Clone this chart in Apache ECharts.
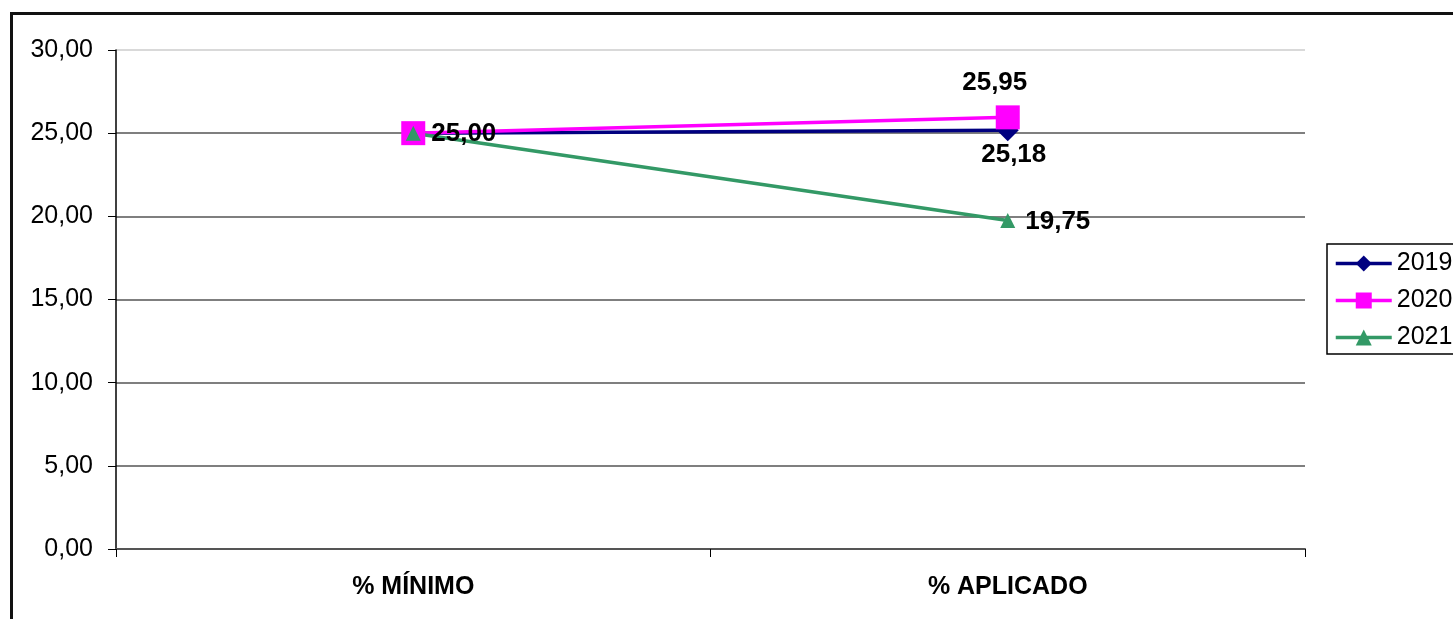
<!DOCTYPE html>
<html>
<head>
<meta charset="utf-8">
<script src="https://cdn.jsdelivr.net/npm/echarts@6/dist/echarts.min.js"></script>
<style>html,body{margin:0;padding:0;background:#fff;}#c{width:1453px;height:619px;}</style>
</head>
<body>
<div id="c"></div>
<script>
var categories = ['% MÍNIMO', '% APLICADO'];
var seriesNames = ['2019', '2020', '2021'];
var values2019 = [25.00, 25.18];
var values2020 = [25.00, 25.95];
var values2021 = [25.00, 19.75];
var yTicks = [0, 5, 10, 15, 20, 25, 30];

function fmt(v) { return Number(v).toFixed(2).replace('.', ','); }

var chart = echarts.init(document.getElementById('c'));
var FONT = 'Liberation Sans, Arial';
var labelFont = { fontFamily: FONT, fontSize: 26, fontWeight: 'bold', color: '#000' };

chart.setOption({
  animation: false,
  backgroundColor: '#fff',
  graphic: [{
    type: 'rect', left: 9, top: 11, shape: { x: 0, y: 0, width: 1600, height: 800 },
    style: { fill: 'none', stroke: '#111', lineWidth: 3 }, silent: true, z: -1
  }],
  grid: { left: 116, right: 148, top: 50, bottom: 70, containLabel: false },
  legend: {
    orient: 'vertical', left: 1327, top: 244, data: seriesNames,
    itemWidth: 56, itemHeight: 20, itemGap: 12,
    padding: [7, 10, 4, 7],
    borderColor: '#000', borderWidth: 1.5,
    lineStyle: { width: 3.5 },
    textStyle: { fontFamily: FONT, fontSize: 25, color: '#000' }
  },
  xAxis: {
    type: 'category', data: categories, boundaryGap: true,
    axisLine: { lineStyle: { color: '#555', width: 2 } },
    axisTick: { show: true, length: 8, lineStyle: { color: '#000' } },
    axisLabel: { margin: 26, fontFamily: FONT, fontSize: 25, fontWeight: 'bold', color: '#000' }
  },
  yAxis: {
    type: 'value', min: yTicks[0], max: yTicks[yTicks.length - 1], interval: 5,
    axisLine: { show: true, lineStyle: { color: '#000', width: 1.5 } },
    axisTick: { show: true, length: 8, lineStyle: { color: '#000' } },
    axisLabel: { margin: 23, fontFamily: FONT, fontSize: 25, color: '#000', formatter: fmt },
    splitLine: { show: true, lineStyle: { color: ['#555', '#555', '#555', '#555', '#555', '#555', '#ccc'], width: 1.5 } }
  },
  series: [
    {
      name: seriesNames[0], type: 'line', data: values2019,
      symbol: 'diamond', symbolSize: 22,
      itemStyle: { color: '#000080' }, lineStyle: { color: '#000080', width: 3.5 },
      label: { show: true, position: 'bottom', distance: 1, offset: [6, 0], formatter: function (p) { return p.dataIndex === 1 ? fmt(p.value) : ''; }, ...labelFont }
    },
    {
      name: seriesNames[1], type: 'line',
      symbol: 'rect', symbolSize: 24,
      itemStyle: { color: '#FF00FF' }, lineStyle: { color: '#FF00FF', width: 3.5 },
      label: {
        show: true, formatter: function (p) { return fmt(p.value); }, ...labelFont,
        position: 'top', distance: 10, offset: [-13, 0]
      },
      data: [
        { value: values2020[0], label: { position: 'right', distance: 6, offset: [0, 1] } },
        { value: values2020[1] }
      ]
    },
    {
      name: seriesNames[2], type: 'line', data: values2021,
      symbol: 'triangle', symbolSize: 15,
      itemStyle: { color: '#339966' }, lineStyle: { color: '#339966', width: 3.5 },
      label: { show: true, position: 'right', distance: 10, offset: [0, 1], formatter: function (p) { return p.dataIndex === 1 ? fmt(p.value) : ''; }, ...labelFont }
    }
  ]
});
</script>
</body>
</html>
